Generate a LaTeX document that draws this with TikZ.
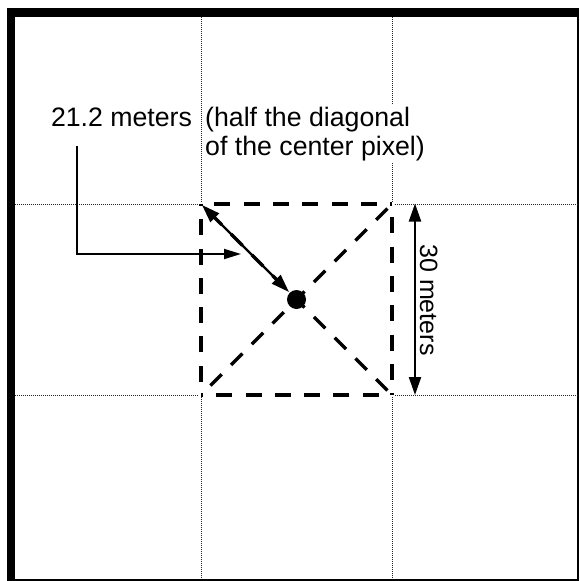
\documentclass[tikz,border=0pt]{standalone}
\usepackage{fontspec}
\setmainfont{Liberation Sans}
\usetikzlibrary{arrows.meta}
\begin{document}
\begin{tikzpicture}[x=1pt,y=-1pt,
  gridline/.style={black!85,line width=1pt,dash pattern=on 1pt off 1pt},
  sqedge/.style={line width=3.2pt,dash pattern=on 16pt off 13.3pt,dash phase=16pt},
  sqback/.style={white,line width=3.4pt},
  lbl/.style={font=\fontsize{26.7}{28.3}\selectfont,inner sep=0pt},
  tip/.style={-{Triangle[length=17pt,width=10pt]}},
  dtip/.style={{Triangle[length=18pt,width=12pt]}-{Triangle[length=18pt,width=12pt]}}]
\useasboundingbox (0,0) rectangle (580,581);
% frame
\fill (6.7,8) rectangle (14.8,580.5);
\fill (6.7,8) rectangle (579.3,16.7);
\draw[line width=2pt] (578.3,8) -- (578.3,579.5) -- (6.7,579.5);
% grid
\draw[gridline] (14.8,204) -- (577.3,204);
\draw[gridline] (14.8,395) -- (577.3,395);
\draw[gridline] (201,16.7) -- (201,578.5);
\draw[gridline] (392,16.7) -- (392,578.5);
% square corners
\coordinate (tl) at (201,204);
\coordinate (tr) at (392,204);
\coordinate (bl) at (201,395);
\coordinate (br) at (392,395);
\draw[sqback] (tl) -- (tr) -- (br) -- (bl) -- cycle;
\draw[sqedge] (tl) -- (tr);
\draw[sqedge] (tr) -- (br);
\draw[sqedge] (br) -- (bl);
\draw[sqedge] (bl) -- (tl);
\draw[sqedge] (bl) -- (tr);
\draw[sqedge] (tl) -- (br);
% center dot
\node[circle,fill=black,inner sep=0pt,minimum size=19pt] (dot) at (296.5,299.5) {};
% labels
\node[lbl,anchor=base west] (len) at (50.8,126.7) {21.2 meters};
\node[lbl,anchor=base west,fill=white,inner ysep=2pt] (note1) at (205,126.7) {(half the diagonal};
\node[lbl,anchor=base west,fill=white,inner ysep=2pt] (note2) at (205,155) {of the center pixel)};
% elbow connector
\coordinate (e1) at (77.3,146);
\coordinate (e2) at (241,254);
\draw[tip,line width=1.8pt] (e1) |- (e2);
% half diagonal arrow
\draw[dtip,line width=2.4pt,shorten <=1.5pt,shorten >=1pt] (tl) -- (dot);
% 30 meters arrow
\coordinate (m1) at (415,203.5);
\coordinate (m2) at (415,395);
\draw[dtip,line width=2.2pt] (m1) -- (m2);
\node[font=\fontsize{25}{28}\selectfont,inner sep=0pt,rotate=-90,anchor=base] (side) at (420,300) {30 meters};
\end{tikzpicture}
\end{document}
